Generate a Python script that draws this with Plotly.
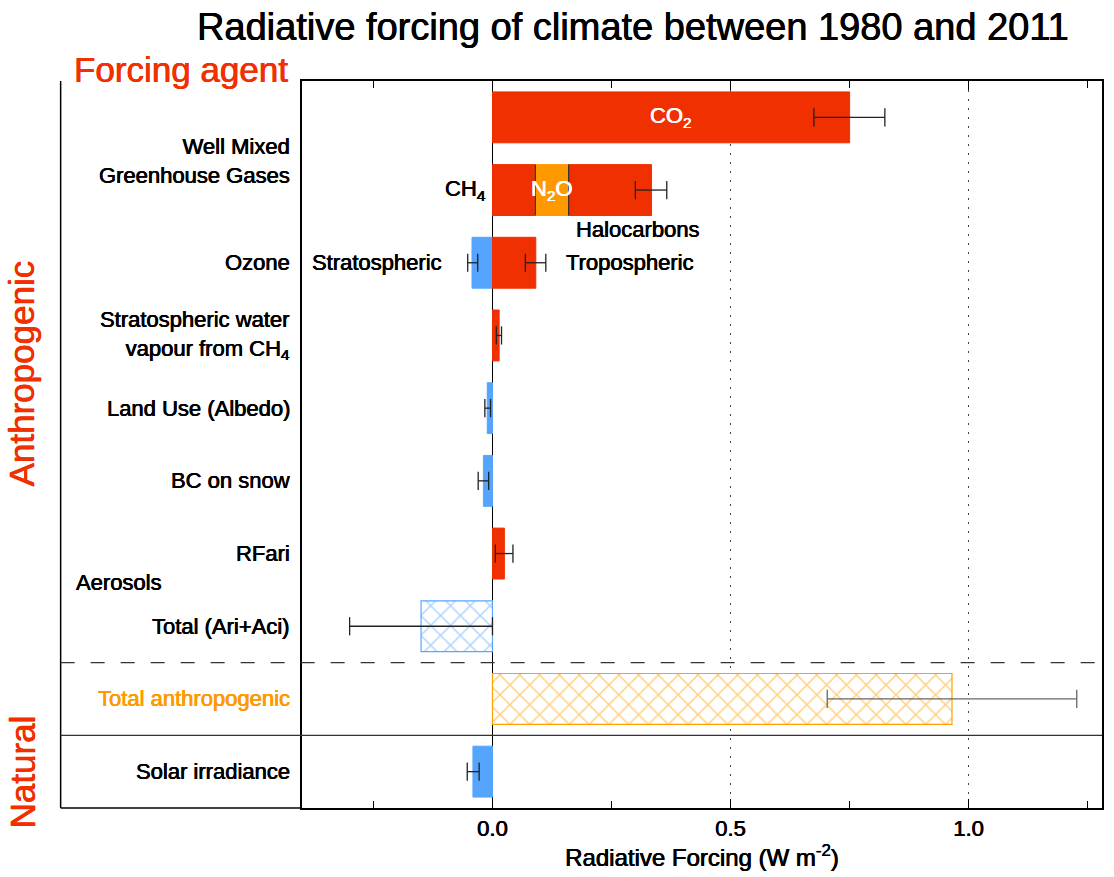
import plotly.graph_objects as go

# ---------------------------------------------------------------------------
# Data: radiative forcing 1980-2011 (W m-2)
# ---------------------------------------------------------------------------
row_keys = ["co2", "wmghg", "ozone", "strat_h2o", "land_use",
            "bc_snow", "rfari", "aer_total", "total_anthro", "solar"]

row_captions = ["Well Mixed<br>Greenhouse Gases", "Ozone",
                "Stratospheric water<br>vapour from CH<sub>4</sub>",
                "Land Use (Albedo)", "BC on snow", "RFari", "Aerosols",
                "Total (Ari+Aci)", "Total anthropogenic", "Solar irradiance"]

seg_names = ["CO2", "CH4", "N2O", "Halocarbons", "Stratospheric ozone",
             "Tropospheric ozone", "Stratospheric water vapour", "Land use",
             "BC on snow", "RFari", "Aerosols total", "Total anthropogenic",
             "Solar irradiance"]
seg_row = ["co2", "wmghg", "wmghg", "wmghg", "ozone", "ozone", "strat_h2o",
           "land_use", "bc_snow", "rfari", "aer_total", "total_anthro", "solar"]
seg_value = [0.750, 0.090, 0.070, 0.174, -0.043, 0.091, 0.014, -0.011,
             -0.019, 0.025, -0.150, 0.965, -0.041]
# uncertainty range (low, high); None where no bar of its own is drawn
seg_low = [0.675, None, None, 0.300, -0.052, 0.069, 0.008, -0.016,
           -0.030, 0.006, -0.300, 0.703, -0.053]
seg_high = [0.824, None, None, 0.366, -0.031, 0.112, 0.019, -0.004,
            -0.008, 0.043, 0.000, 1.227, -0.028]

# ---------------------------------------------------------------------------
# Styling
# ---------------------------------------------------------------------------
RED = "#F03000"
ORANGE = "#FF9900"
BLUE = "#55A5FF"
FAMILY = "Liberation Sans, Arial, Helvetica, sans-serif"

seg_fill = {"CO2": RED, "CH4": RED, "N2O": ORANGE, "Halocarbons": RED,
            "Stratospheric ozone": BLUE, "Tropospheric ozone": RED,
            "Stratospheric water vapour": RED, "Land use": BLUE,
            "BC on snow": BLUE, "RFari": RED, "Solar irradiance": BLUE}
seg_hatch = {"Aerosols total": "#5AA6FF", "Total anthropogenic": "#FFA000"}


def font(size=22, color="black"):
    # a hair of same-coloured shadow gives the heavier print-like strokes
    return dict(family=FAMILY, size=size, color=color,
                shadow=f"0.35px 0 0 {color}, -0.35px 0 0 {color}")


row_index = {k: i for i, k in enumerate(row_keys)}
BAR_W = 0.70

# stack segments that share a row (positives rightwards, negatives leftwards)
pos_sum, neg_sum = {}, {}
bases, ys = [], []
for name, row, val in zip(seg_names, seg_row, seg_value):
    if val >= 0:
        b = pos_sum.get(row, 0.0)
        pos_sum[row] = b + val
    else:
        b = neg_sum.get(row, 0.0)
        neg_sum[row] = b + val
    bases.append(b)
    ys.append(row_index[row])

fig = go.Figure()

# solid bars
solid = [i for i, n in enumerate(seg_names) if n in seg_fill]
fig.add_trace(go.Bar(
    orientation="h",
    x=[seg_value[i] for i in solid], base=[bases[i] for i in solid],
    y=[ys[i] for i in solid], width=BAR_W,
    marker=dict(color=[seg_fill[seg_names[i]] for i in solid],
                line=dict(color=[seg_fill[seg_names[i]] for i in solid], width=1)),
    hoverinfo="skip", showlegend=False,
))

# cross-hatched totals
for i, n in enumerate(seg_names):
    if n not in seg_hatch:
        continue
    c = seg_hatch[n]
    fig.add_trace(go.Bar(
        orientation="h", x=[seg_value[i]], base=[bases[i]], y=[ys[i]],
        width=BAR_W,
        marker=dict(color="white", line=dict(color=c, width=1.2),
                    pattern=dict(shape="x", fgcolor=c, bgcolor="white",
                                 size=14, solidity=0.2)),
        hoverinfo="skip", showlegend=False,
    ))

# thin dividers between stacked WMGHG components
div_x, div_y = [], []
for i, (name, row) in enumerate(zip(seg_names, seg_row)):
    if row == "wmghg" and bases[i] > 0:
        r = row_index[row]
        div_x += [bases[i], bases[i], None]
        div_y += [r - BAR_W / 2, r + BAR_W / 2, None]
fig.add_trace(go.Scatter(x=div_x, y=div_y, mode="lines",
                         line=dict(color="#333333", width=1.2),
                         hoverinfo="skip", showlegend=False))


# uncertainty bars
def err_trace(names, color):
    ex, ey = [], []
    for name, row, lo, hi in zip(seg_names, seg_row, seg_low, seg_high):
        if lo is None or name not in names:
            continue
        r = row_index[row]
        ex += [lo, hi, None]
        ey += [r, r, None]
    return go.Scatter(x=ex, y=ey, mode="lines+markers",
                      line=dict(color=color, width=1.3),
                      marker=dict(symbol="line-ns", size=13,
                                  line=dict(color=color, width=1.3)),
                      hoverinfo="skip", showlegend=False, cliponaxis=False)


fig.add_trace(err_trace([n for n in seg_names if n != "Total anthropogenic"], "#222222"))
fig.add_trace(err_trace(["Total anthropogenic"], "#666666"))

# ---------------------------------------------------------------------------
# Text
# ---------------------------------------------------------------------------
ann = []

caption_rows = [0.6, 2, 3, 4, 5, 6, 6.4, 7, 8, 9]
for cap, yr in zip(row_captions, caption_rows):
    if cap == "Aerosols":
        ann.append(dict(x=-0.2855, xref="paper", y=yr, yref="y", text=cap,
                        xanchor="left", yanchor="middle", showarrow=False,
                        font=font()))
    else:
        col = ORANGE if cap == "Total anthropogenic" else "black"
        ann.append(dict(x=-0.0125, xref="paper", y=yr, yref="y", text=cap,
                        xanchor="right", yanchor="middle", showarrow=False,
                        align="right", font=font(22, col)))


def seg(name):
    i = seg_names.index(name)
    return bases[i], seg_value[i], ys[i]


b, v, r = seg("CO2")
ann.append(dict(x=b + v / 2, y=r, text="CO<sub>2</sub>", showarrow=False,
                font=font(22, "white")))
b, v, r = seg("N2O")
ann.append(dict(x=b + v / 2, y=r, text="N<sub>2</sub>O", showarrow=False,
                font=font(22, "white")))
b, v, r = seg("CH4")
ann.append(dict(x=b, y=r, text="CH<sub>4</sub>", showarrow=False,
                xanchor="right", xshift=-4, font=font()))
b, v, r = seg("Halocarbons")
ann.append(dict(x=b, y=r + 0.5, text="Halocarbons", showarrow=False,
                xanchor="left", xshift=5, yshift=-3, font=font()))
b, v, r = seg("Stratospheric ozone")
ann.append(dict(x=-0.102, y=r, text="Stratospheric", showarrow=False,
                xanchor="right", font=font()))
b, v, r = seg("Tropospheric ozone")
ann.append(dict(x=0.15, y=r, text="Tropospheric", showarrow=False,
                xanchor="left", font=font()))

# headings
ann.append(dict(x=0.414, xref="paper", y=1.0743, yref="paper", showarrow=False,
                text="Radiative forcing of climate between 1980 and 2011",
                xanchor="center", yanchor="middle", font=font(38)))
ann.append(dict(x=-0.015, xref="paper", y=1.0165, yref="paper", showarrow=False,
                text="Forcing agent", xanchor="right", yanchor="middle",
                font=font(35, RED)))
ann.append(dict(x=-0.351, xref="paper", y=3.52, yref="y", showarrow=False,
                text="Anthropogenic", textangle=-90, xanchor="center",
                yanchor="middle", font=font(35, RED)))
ann.append(dict(x=-0.349, xref="paper", y=9.0, yref="y", showarrow=False,
                text="Natural", textangle=-90, xanchor="center",
                yanchor="middle", font=font(35, RED)))

# ---------------------------------------------------------------------------
# Frame lines of the caption panel and section separators
# ---------------------------------------------------------------------------
PANEL_L = -0.3017
shapes = [
    dict(type="line", xref="paper", yref="paper", x0=PANEL_L, x1=PANEL_L,
         y0=0, y1=1, line=dict(color="black", width=1.5)),
    dict(type="line", xref="paper", yref="paper", x0=PANEL_L, x1=0,
         y0=0, y1=0, line=dict(color="black", width=1.5)),
    dict(type="line", xref="paper", yref="y", x0=PANEL_L, x1=1,
         y0=row_index["aer_total"] + 0.5, y1=row_index["aer_total"] + 0.5,
         line=dict(color="#333333", width=1.2, dash="14px,16px")),
    dict(type="line", xref="paper", yref="y", x0=PANEL_L, x1=1,
         y0=row_index["total_anthro"] + 0.5, y1=row_index["total_anthro"] + 0.5,
         line=dict(color="#333333", width=1.2)),
]

fig.update_layout(
    width=1114, height=877,
    margin=dict(l=302, r=10, t=81, b=69),
    paper_bgcolor="white", plot_bgcolor="white",
    barmode="overlay",
    annotations=ann, shapes=shapes,
    font=dict(family=FAMILY, size=22, color="black"),
    xaxis=dict(
        range=[-0.40, 1.28],
        tickvals=[0.0, 0.5, 1.0], ticktext=["0.0", "0.5", "1.0"],
        ticks="inside", ticklen=9, tickwidth=1.3, tickcolor="black",
        minor=dict(tickvals=[-0.25, 0.25, 0.75, 1.25], ticks="inside",
                   ticklen=7, tickwidth=1.3, tickcolor="black", showgrid=False),
        showline=True, linecolor="black", linewidth=1.5, mirror="ticks",
        showgrid=True, gridcolor="#444444", gridwidth=1.2, griddash="2px,7px",
        zeroline=True, zerolinecolor="black", zerolinewidth=1.3,
        tickfont=font(22),
        title=dict(text="Radiative Forcing (W m<sup>-2</sup>)",
                   font=font(24), standoff=4),
        fixedrange=True,
    ),
    yaxis=dict(
        range=[len(row_keys) - 0.5, -0.5],
        showticklabels=False, ticks="", showgrid=False, zeroline=False,
        showline=True, linecolor="black", linewidth=1.5, mirror=True,
        fixedrange=True,
    ),
)

fig.write_html("out.html")
